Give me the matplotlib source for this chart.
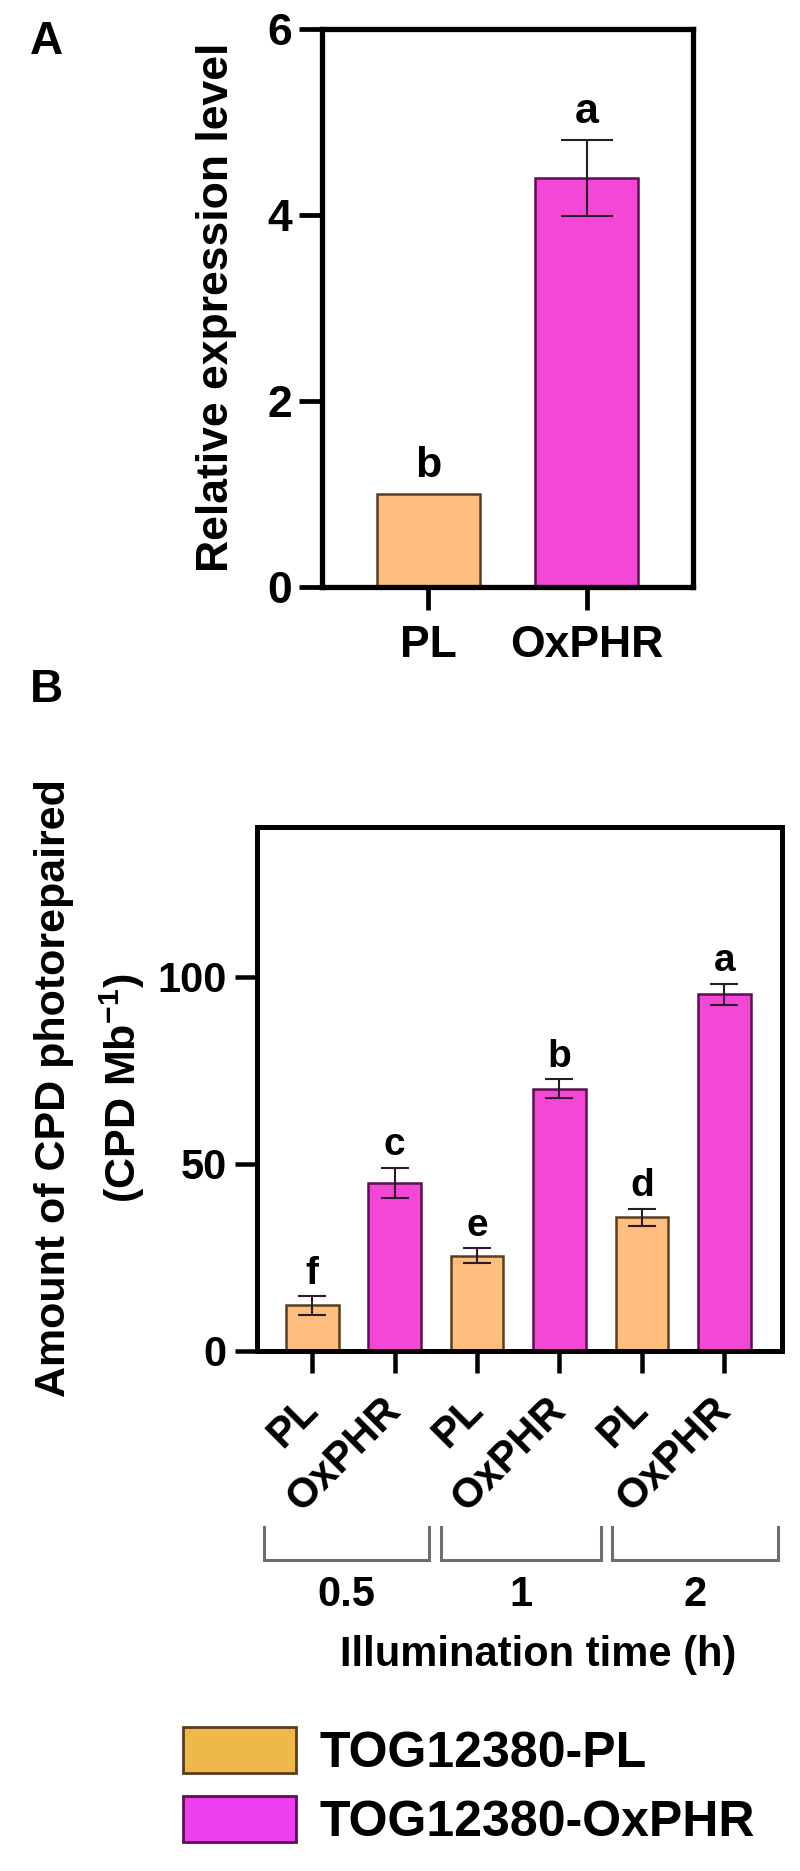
import numpy as np
import matplotlib
matplotlib.use("Agg")
import matplotlib.pyplot as plt
from matplotlib.patches import Patch

plt.rcParams['font.family'] = ['Liberation Sans', 'DejaVu Sans']
plt.rcParams['font.weight'] = 'bold'
plt.rcParams['mathtext.fontset'] = 'custom'
plt.rcParams['mathtext.rm'] = 'Liberation Sans:bold'
plt.rcParams['mathtext.bf'] = 'Liberation Sans:bold'

# ---- data ----
# panel A: relative expression
a_labels = ['PL', 'OxPHR']
a_means = [1.0, 4.4]
a_errs = [0.0, 0.41]
a_letters = ['b', 'a']

# panel B: CPD photorepaired, pairs of PL / OxPHR per illumination time
b_labels = ['PL', 'OxPHR', 'PL', 'OxPHR', 'PL', 'OxPHR']
b_means = [12.2, 45.0, 25.4, 70.1, 35.7, 95.3]
b_errs = [2.5, 4.0, 2.0, 2.5, 2.3, 2.8]
b_letters = ['f', 'c', 'e', 'b', 'd', 'a']
times = ['0.5', '1', '2']

legend_names = ['TOG12380-PL', 'TOG12380-OxPHR']

# ---- style ----
pl_color, ox_color = '#FDBE7E', '#F547D6'
pl_edge, ox_edge = '#5a3d1e', '#5a1050'
leg_pl, leg_ox = '#EFB84A', '#EE3FEE'
err_color = '#2a1a2a'

W, H = 800, 1871
fig = plt.figure(figsize=(W / 100, H / 100), dpi=100)


def style_axes(ax, lw, ticklen, fs, ypad, xpad):
    for s in ax.spines.values():
        s.set_linewidth(lw)
    ax.tick_params(width=lw * 0.9, length=ticklen, labelsize=fs)
    ax.tick_params(axis='y', pad=ypad)
    ax.tick_params(axis='x', pad=xpad)


# ---- panel A ----
axA = fig.add_axes([322 / W, 1 - 587 / H, (693 - 322) / W, (587 - 29) / H])
xa = np.arange(len(a_labels))
axA.bar(xa, a_means, width=0.65, color=[pl_color, ox_color],
        edgecolor=[pl_edge, ox_edge], linewidth=1.8, zorder=2)
axA.errorbar(xa[1:], a_means[1:], yerr=a_errs[1:], fmt='none',
             ecolor=err_color, elinewidth=1.5, capsize=19, capthick=1.5, zorder=3)
for x, m, e, t in zip(xa, a_means, a_errs, a_letters):
    axA.text(x, m + e + 0.3, t, ha='center', va='center', fontsize=31,
             fontweight='bold')
axA.set_xlim(-0.67, 1.67)
axA.set_ylim(0, 6)
axA.set_yticks([0, 2, 4, 6])
axA.set_xticks(xa)
axA.set_xticklabels(a_labels)
style_axes(axA, 3.8, 16.5, 32, 5, 11)
fig.text(217 / W, 1 - 307 / H, 'Relative expression level', rotation=90,
         ha='center', va='center', fontsize=32, fontweight='bold')
fig.text(46 / W, 1 - 42 / H, 'A', ha='center', va='center', fontsize=33,
         fontweight='bold')

# ---- panel B ----
axB = fig.add_axes([257 / W, 1 - 1351 / H, (782 - 257) / W, (1351 - 827) / H])
xb = np.arange(len(b_labels))
cols = [pl_color, ox_color] * 3
edges = [pl_edge, ox_edge] * 3
axB.bar(xb, b_means, width=0.64, color=cols, edgecolor=edges,
        linewidth=1.8, zorder=2)
axB.errorbar(xb, b_means, yerr=b_errs, fmt='none', ecolor=err_color,
             elinewidth=1.5, capsize=10, capthick=1.5, zorder=3)
for x, m, e, t in zip(xb, b_means, b_errs, b_letters):
    axB.text(x, m + e + 6, t, ha='center', va='center', fontsize=28,
             fontweight='bold')
axB.set_xlim(-0.67, 5.70)
axB.set_ylim(0, 140)
axB.set_yticks([0, 50, 100])
axB.set_xticks(xb)
axB.set_xticklabels(b_labels, rotation=45, ha='right', va='center',
                    rotation_mode='anchor')
style_axes(axB, 3.6, 16, 30, 6, 22)

fig.text(54 / W, 1 - 1088 / H, 'Amount of CPD photorepaired', rotation=90,
         ha='center', va='center', fontsize=31, fontweight='bold')
fig.text(122 / W, 1 - 1088 / H, r'(CPD Mb$^{\mathbf{-1}}$)', rotation=90,
         ha='center', va='center', fontsize=31, fontweight='bold')
fig.text(46 / W, 1 - 690 / H, 'B', ha='center', va='center', fontsize=33,
         fontweight='bold')

# group brackets below the tick labels (axes coordinates)
x0, span, gap = 0.013, 0.3265, 0.011
y_top, y_bot = -0.336, -0.399
for i, t in enumerate(times):
    left = x0 + i * span + (gap if i > 0 else 0)
    right = x0 + (i + 1) * span - (gap if i < len(times) - 1 else 0)
    axB.plot([left, left, right, right], [y_top, y_bot, y_bot, y_top],
             transform=axB.transAxes, clip_on=False, color='#6e6e6e',
             lw=2.2, solid_joinstyle='miter')
    axB.text((left + right) / 2, -0.466, t, transform=axB.transAxes,
             ha='center', va='center', fontsize=30, fontweight='bold')
axB.text(0.535, -0.580, 'Illumination time (h)', transform=axB.transAxes,
         ha='center', va='center', fontsize=30, fontweight='bold')

# ---- legend ----
handles = [Patch(facecolor=leg_pl, edgecolor=pl_edge, linewidth=2),
           Patch(facecolor=leg_ox, edgecolor=ox_edge, linewidth=2)]
fig.legend(handles, legend_names, loc='upper left',
           bbox_to_anchor=(183 / W, 1 - 1727 / H), frameon=False,
           fontsize=36, handlelength=2.26, handleheight=1.04,
           handletextpad=0.48, labelspacing=0.38, borderpad=0,
           borderaxespad=0, prop={'weight': 'bold', 'size': 36})

fig.savefig('out.png', dpi=100)
